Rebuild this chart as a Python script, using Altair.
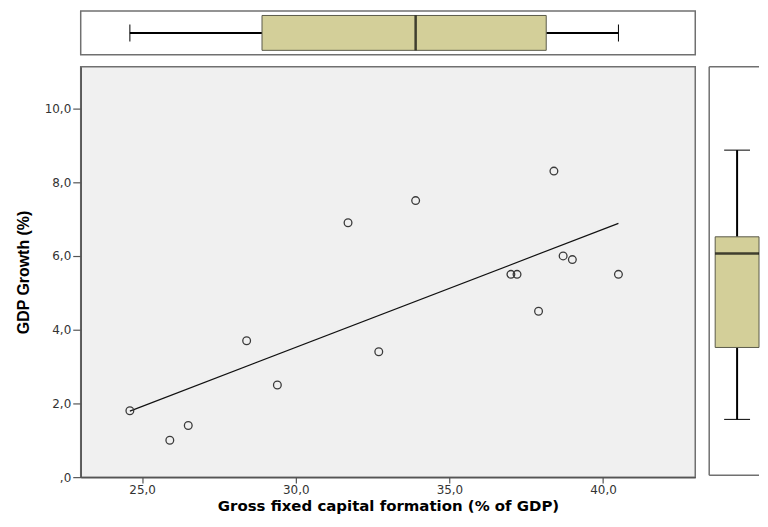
import altair as alt
import pandas as pd

# ---- data ----
gfcf = [24.6, 25.9, 26.5, 28.4, 29.4, 31.7, 32.7, 33.9, 37.0, 37.2, 37.9, 38.4, 38.7, 39.0, 40.5]
gdp_growth = [1.8, 1.0, 1.4, 3.7, 2.5, 6.9, 3.4, 7.5, 5.5, 5.5, 4.5, 8.3, 6.0, 5.9, 5.5]
x_ticks = [25, 30, 35, 40]
y_ticks = [0, 2, 4, 6, 8, 10]
x_title = "Gross fixed capital formation (% of GDP)"
y_title = "GDP Growth (%)"

df = pd.DataFrame({"gfcf": gfcf, "gdp": gdp_growth})
frame_df = pd.DataFrame({"part": ["frame"]})

LABEL_FONT = "DejaVu Sans"
BOX_FILL = "#D3CF99"
BOX_STROKE = "#5a5a4a"
FRAME = "#707070"
RW, RH = 44, 410

x_scale = alt.Scale(domain=[23, 43], nice=False, zero=False)
y_scale = alt.Scale(domain=[0, 11.13], nice=False, zero=False)
yr_scale = alt.Scale(domain=[-0.512, 10.56], nice=False, zero=False)

label_expr = "datum.value == 0 ? ',0' : replace(format(datum.value, '.1f'), '.', ',')"
x_axis = alt.Axis(values=x_ticks, labelExpr=label_expr, title=x_title, grid=False,
                  tickSize=6, labelPadding=1, titlePadding=3,
                  titleFont="DejaVu Sans", titleFontSize=15)
y_axis = alt.Axis(values=y_ticks, labelExpr=label_expr, title=y_title, grid=False,
                  tickSize=8, labelPadding=2, titlePadding=13,
                  titleFont="Liberation Sans", titleFontSize=16)

def box_style(cap):
    return dict(
        extent="min-max",
        color=BOX_FILL,
        box={"stroke": BOX_STROKE, "strokeWidth": 1},
        median={"color": "black", "thickness": 2.5},
        rule={"color": "black", "strokeWidth": 2},
        ticks={"color": "black", "strokeWidth": 2, "size": cap},
    )

# ---- main scatter ----
base = alt.Chart(df).encode(
    x=alt.X("gfcf:Q", scale=x_scale, axis=x_axis),
    y=alt.Y("gdp:Q", scale=y_scale, axis=y_axis),
)
fit = base.transform_regression("gfcf", "gdp").mark_line(color="#111111", strokeWidth=1.2)
pts = base.mark_point(shape="circle", filled=False, size=60, color="#3a3a3a",
                      strokeWidth=1.3, opacity=1)
main = alt.layer(fit, pts).properties(
    width=617, height=412,
    view=alt.ViewBackground(fill="#F0F0F0", stroke=FRAME, strokeWidth=1.5),
)

# ---- top boxplot (x variable) ----
# invisible left axis as wide as the scatter's y axis plus its title, so the plot areas line up
ghost_axis = alt.Axis(title=None, labelExpr="'10,0'", labelOpacity=0, tickSize=8, tickOpacity=0,
                      labelPadding=31, domainOpacity=0, grid=False)
top = alt.Chart(df).transform_calculate(row="'box'").mark_boxplot(size=35, **box_style(17)).encode(
    x=alt.X("gfcf:Q", scale=x_scale, axis=None),
    y=alt.Y("row:N", axis=ghost_axis),
).properties(
    width=617, height=44,
    view=alt.ViewBackground(fill="white", stroke=FRAME, strokeWidth=1.5),
)

# ---- right boxplot (y variable), its panel runs past the picture's right edge ----
r_box = alt.Chart(df).mark_boxplot(size=RW, **box_style(26)).encode(
    y=alt.Y("gdp:Q", scale=yr_scale, axis=None),
)
fr = alt.Chart(frame_df)
fr_l = fr.mark_rule(color=FRAME, strokeWidth=1.5).encode(
    x=alt.value(-6), y=alt.value(0), y2=alt.value(RH))
fr_t = fr.mark_rule(color=FRAME, strokeWidth=1.5).encode(
    y=alt.value(0), x=alt.value(-6), x2=alt.value(RW))
fr_b = fr.mark_rule(color=FRAME, strokeWidth=1.5).encode(
    y=alt.value(RH), x=alt.value(-6), x2=alt.value(RW))
right = alt.layer(r_box, fr_l, fr_t, fr_b).properties(
    width=RW, height=RH,
    view=alt.ViewBackground(fill="white", strokeWidth=0),
)

row2 = alt.hconcat(main, right, spacing=12)
chart = alt.vconcat(top, row2, spacing=10).properties(
    padding={"left": 6, "top": 1, "right": 0, "bottom": 0},
).configure_axis(
    labelFont=LABEL_FONT, labelFontSize=12, labelColor="#333333",
    titleFontWeight="bold", titleColor="#000000",
    domainColor="#555555", domainWidth=1.5, tickColor="#555555", tickWidth=1.2,
)

chart.save("out.html", embed_options={"renderer": "svg", "actions": False})
